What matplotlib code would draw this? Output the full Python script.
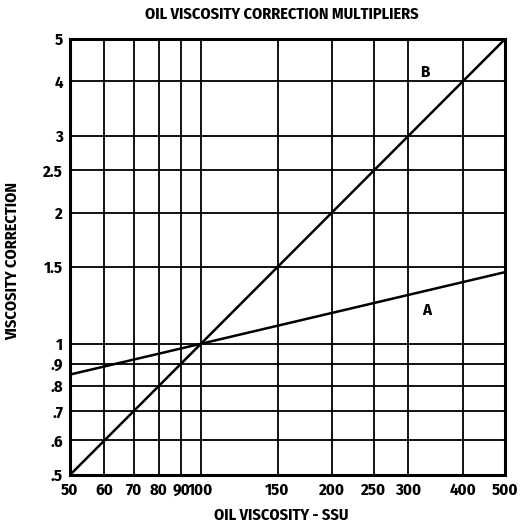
import matplotlib
matplotlib.use("Agg")
import matplotlib.pyplot as plt
from matplotlib.ticker import FixedLocator, FixedFormatter, NullLocator

# Data
x_ticks = [50, 60, 70, 80, 90, 100, 150, 200, 250, 300, 400, 500]
x_labels = ["50", "60", "70", "80", "90", "100", "150", "200", "250", "300", "400", "500"]
y_ticks = [0.5, 0.6, 0.7, 0.8, 0.9, 1.0, 1.5, 2.0, 2.5, 3.0, 4.0, 5.0]
y_labels = [".5", ".6", ".7", ".8", ".9", "1", "1.5", "2", "2.5", "3", "4", "5"]

a_x = [50, 100, 500]
a_y = [0.85, 1.0, 1.46]
b_x = [50, 100, 500]
b_y = [0.5, 1.0, 5.0]

plt.rcParams['font.family'] = ['Fira Sans Condensed', 'Roboto Condensed', 'DejaVu Sans']
plt.rcParams['font.weight'] = 'bold'

fig = plt.figure(figsize=(5.26, 5.27), dpi=100)
ax = fig.add_axes([0.133, 0.0987, 0.827, 0.827])
ax.set_xscale('log')
ax.set_yscale('log')
ax.set_xlim(50, 500)
ax.set_ylim(0.5, 5)

for xv in x_ticks[1:-1]:
    ax.axvline(xv, color='black', lw=1.3, zorder=1)
for yv in y_ticks[1:-1]:
    ax.axhline(yv, color='black', lw=1.3, zorder=1)

ax.plot(a_x, a_y, color='black', lw=1.8, zorder=3)
ax.plot(b_x, b_y, color='black', lw=1.8, zorder=3)

ax.text(327, 4.2, "B", fontsize=12, fontweight='bold', ha='center', va='center')
ax.text(331, 1.19, "A", fontsize=12, fontweight='bold', ha='center', va='center')

ax.xaxis.set_major_locator(FixedLocator(x_ticks))
ax.xaxis.set_major_formatter(FixedFormatter(x_labels))
ax.xaxis.set_minor_locator(NullLocator())
ax.yaxis.set_major_locator(FixedLocator(y_ticks))
ax.yaxis.set_major_formatter(FixedFormatter(y_labels))
ax.yaxis.set_minor_locator(NullLocator())
ax.tick_params(length=0, labelsize=12, pad=5)
for lab in ax.get_xticklabels() + ax.get_yticklabels():
    lab.set_fontweight('bold')

for s in ax.spines.values():
    s.set_linewidth(2.2)
    s.set_zorder(4)

fig.text(0.535, 0.972, "OIL VISCOSITY CORRECTION MULTIPLIERS", fontsize=11.7,
         fontweight='bold', ha='center', va='center')
fig.text(0.535, 0.023, "OIL VISCOSITY - SSU", fontsize=11.7,
         fontweight='bold', ha='center', va='center')
fig.text(0.023, 0.505, "VISCOSITY CORRECTION", fontsize=11.7, fontweight='bold',
         ha='center', va='center', rotation=90)

fig.savefig("out.png", dpi=100, facecolor='white')
